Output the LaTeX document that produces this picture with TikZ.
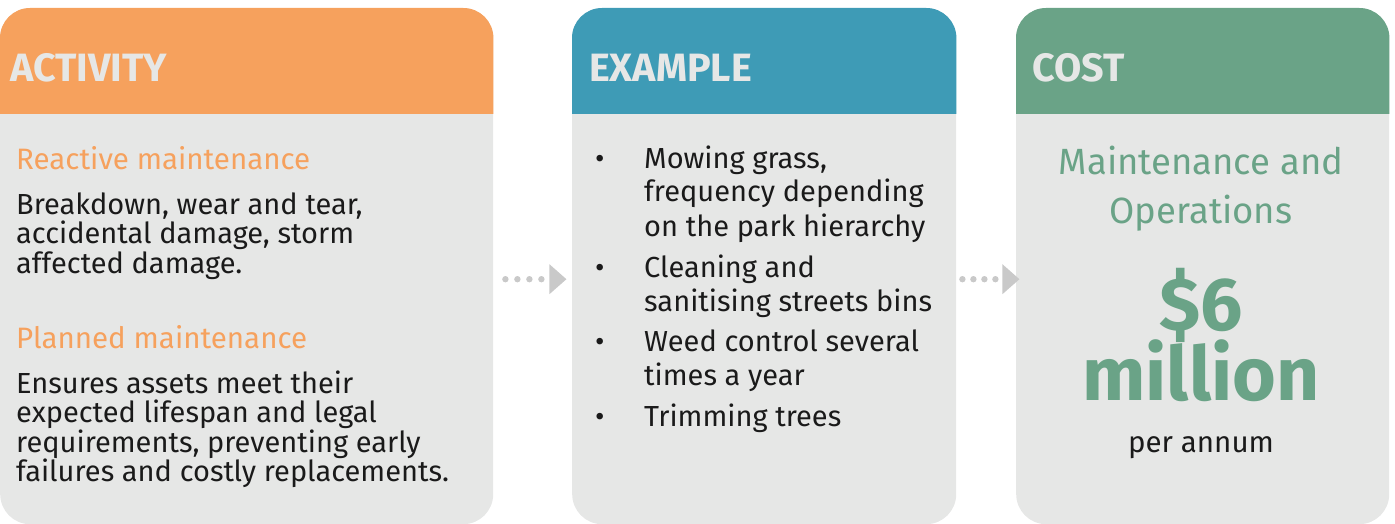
\documentclass[tikz,border=0pt]{standalone}
\usepackage{fontspec}
\setmainfont{Fira Sans}
\usetikzlibrary{calc}
\definecolor{cOrange}{HTML}{F6A15D}
\definecolor{cBlue}{HTML}{3E9BB6}
\definecolor{cGreen}{HTML}{6AA387}
\definecolor{cPanel}{HTML}{E6E7E6}
\definecolor{cHead}{HTML}{E6E7E6}
\definecolor{cDot}{HTML}{C9C9C9}
\definecolor{cText}{HTML}{1A1A1A}
\tikzset{
  panelbox/.style={draw=none, fill=cPanel, rounded corners=30pt, anchor=north west, inner sep=0pt},
  headtext/.style={anchor=base west, inner sep=0pt, text=cHead, font=\fontsize{39.5}{42}\selectfont\bfseries},
  bodytext/.style={anchor=base west, inner sep=0pt, text=cText, font=\fontsize{29}{30}\selectfont},
  subtext/.style={anchor=base west, inner sep=0pt, text=cOrange, font=\fontsize{29.5}{30}\selectfont},
  listtext/.style={anchor=base west, inner sep=0pt, text=cText, font=\fontsize{29}{30}\selectfont},
  costtext/.style={anchor=base, inner sep=0pt, text=cGreen},
  dotfill/.style={fill=cDot, draw=none},
}
\begin{document}
\begin{tikzpicture}[x=1pt, y=-1pt]
\useasboundingbox (0,0) rectangle (1395,524);
% panels
\node[panelbox, minimum width=493pt, minimum height=516pt] (p1) at (0,8) {};
\node[panelbox, minimum width=384pt, minimum height=516pt] (p2) at (572,8) {};
\node[panelbox, minimum width=373pt, minimum height=516pt] (p3) at (1016,8) {};
% headers
\begin{scope}
  \clip (0,0) rectangle (1395,114);
  \fill[cOrange, rounded corners=30pt] (p1.north west) rectangle ($(p1.east)$);
  \fill[cBlue, rounded corners=30pt] (p2.north west) rectangle ($(p2.east)$);
  \fill[cGreen, rounded corners=30pt] (p3.north west) rectangle ($(p3.east)$);
\end{scope}
\node[headtext] (h1) at (10,82) {ACTIVITY};
\node[headtext] (h2) at (589,82) {EXAMPLE};
\node[headtext] (h3) at (1032,82) {COST};
% panel 1
\node[subtext] (s1) at (16,169) {Reactive maintenance};
\foreach \t [count=\i] in {{Breakdown, wear and tear,},{accidental damage, storm},{affected damage.}}
  \node[bodytext] (r\i) at (16,{214+29.5*(\i-1)}) {\t};
\node[subtext] (s2) at (16,348) {Planned maintenance};
\foreach \t [count=\i] in {{Ensures assets meet their},{expected lifespan and legal},{requirements, preventing early},{failures and costly replacements.}}
  \node[bodytext] (q\i) at (16,{393+29.5*(\i-1)}) {\t};
% panel 2
\foreach \y/\t [count=\i] in {168/{Mowing grass,},201/{frequency depending},236/{on the park hierarchy},277/{Cleaning and},311/{sanitising streets bins},351/{Weed control several},385/{times a year},426/{Trimming trees}}
  \node[listtext] (e\i) at (644,\y) {\t};
\foreach \y [count=\i] in {168,277,351,426}
  \node[listtext] (b\i) at (595,\y) {\textbullet};
% panel 3
\node[costtext, font=\fontsize{36.5}{38}\selectfont] (m1) at (1201,175) {Maintenance and};
\node[costtext, font=\fontsize{36.5}{38}\selectfont] (m2) at (1201,223) {Operations};
\node[costtext, font=\fontsize{75}{76}\selectfont\bfseries] (d1) at (1201,330) {\$6};
\node[costtext, font=\fontsize{75}{76}\selectfont\bfseries] (d2) at (1201,400) {million};
\node[costtext, text=cText, font=\fontsize{29.5}{30}\selectfont] (pa) at (1201,452) {per annum};
% connectors
\coordinate (a1s) at ($(p1.east)+(12,0)$);
\coordinate (a2s) at ($(p2.east)+(6,0)$);
\foreach \k in {0,1,2,3} {
  \fill[dotfill] ($(a1s)+(12*\k,13)$) circle (3.2pt);
  \fill[dotfill] ($(a2s)+(11*\k,13)$) circle (3.2pt);
}
\fill[dotfill] ($(a1s)+(44,-2)$) -- ($(a1s)+(61,13)$) -- ($(a1s)+(44,28)$) -- cycle;
\fill[dotfill] ($(a2s)+(40,-2)$) -- ($(a2s)+(57,13)$) -- ($(a2s)+(40,28)$) -- cycle;
\end{tikzpicture}
\end{document}
